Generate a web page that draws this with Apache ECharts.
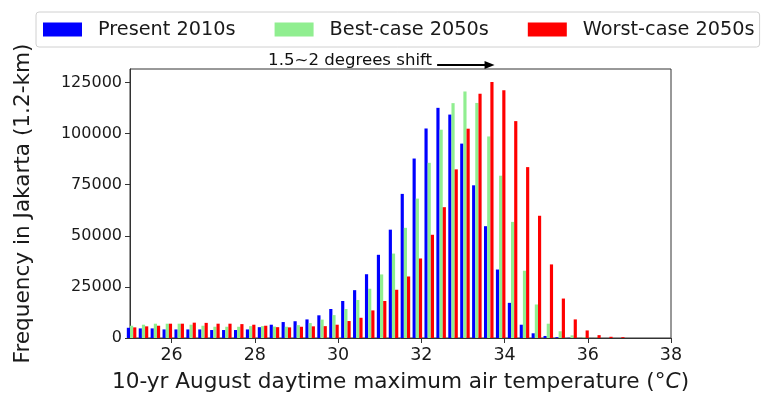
<!DOCTYPE html>
<html>
<head>
<meta charset="utf-8">
<script src="https://cdn.jsdelivr.net/npm/echarts@6/dist/echarts.min.js"></script>
<style>
  html, body { margin: 0; padding: 0; background: #fff; }
  #chart { width: 761px; height: 394px; }
</style>
</head>
<body>
<div id="chart"></div>
<script>
// Histogram bins of the 10-yr August daytime maximum air temperature (°C)
const binFirstCenter = 25.038;
const binWidth = 0.2861;
const binCount = 42;

// Grid-cell counts per bin (1.2-km cells over Jakarta)
const present2010s = [
  5000, 4700, 4700, 4200, 4200, 4200, 4200, 3900, 3900, 3900,
  4200, 5300, 6500, 7800, 8200, 9100, 11100, 14200, 18100, 23400,
  31200, 40700, 53000, 70500, 87800, 102500, 112600, 109300, 95100, 74700,
  54700, 33500, 17200, 6500, 2300, 1000, 400, 100, 0, 0,
  0, 0
];
const bestCase2050s = [
  6000, 6500, 7000, 7000, 7000, 6500, 6000, 5500, 5500, 5500,
  5800, 5800, 5600, 5500, 6300, 7300, 9000, 11200, 14200, 18600,
  24100, 31100, 41300, 53900, 68200, 85700, 101900, 114900, 120600, 115000,
  98600, 79400, 56800, 32900, 16400, 7000, 3300, 1300, 300, 100,
  0, 0
];
const worstCase2050s = [
  5200, 5700, 6000, 7000, 7000, 7500, 7400, 7000, 7000, 6800,
  6500, 6000, 5300, 5200, 5500, 5700, 5800, 6500, 8300, 9900,
  13500, 18100, 23600, 30100, 38900, 50500, 64000, 82500, 102400, 119500,
  125300, 121200, 106100, 83600, 59800, 36000, 19300, 9100, 3700, 1400,
  600, 400
];

const seriesNames = ['Present 2010s', 'Best-case 2050s', 'Worst-case 2050s'];
const seriesColors = ['#0000ff', '#90ee90', '#ff0000'];

const xTicks = [26, 28, 30, 32, 34, 36, 38];
const yTicks = [0, 25000, 50000, 75000, 100000, 125000];

const shiftLabel = '1.5~2 degrees shift';
const shiftArrowFrom = 32.38;
const shiftArrowTo = 33.76;

const binCenters = [];
for (let i = 0; i < binCount; i++) {
  binCenters.push(+(binFirstCenter + i * binWidth).toFixed(4));
}

const FONT = 'DejaVu Sans';
const AXIS_COLOR = '#333';
const TEXT_COLOR = '#1a1a1a';

const chart = echarts.init(document.getElementById('chart'), null, { renderer: 'canvas' });

function barSeries(name, values, color) {
  return {
    name: name,
    type: 'bar',
    data: binCenters.map((c, i) => [c, values[i]]),
    itemStyle: { color: color },
    barGap: '0%',
    barCategoryGap: '20%',
    clip: true,
    animation: false
  };
}

const option = {
  animation: false,
  textStyle: { fontFamily: FONT },
  grid: {
    left: 130, right: 90, top: 69, bottom: 56,
    show: true, borderColor: AXIS_COLOR, borderWidth: 1,
    containLabel: false,
    outerBoundsMode: 'none'
  },
  legend: {
    data: seriesNames,
    left: 36, top: 12,
    icon: 'rect',
    itemWidth: 39, itemHeight: 14, itemGap: 39,
    padding: [8, 5, 8, 7],
    backgroundColor: '#fff',
    borderColor: '#d0d0d0', borderWidth: 1, borderRadius: 3,
    textStyle: { fontFamily: FONT, fontSize: 19.3, color: TEXT_COLOR, padding: [0, 0, 0, 11] }
  },
  xAxis: {
    type: 'value',
    min: 25, max: 38,
    name: '10-yr August daytime maximum air temperature (°{i|C})',
    nameLocation: 'middle',
    nameGap: 33,
    nameTextStyle: {
      fontFamily: FONT, fontSize: 21.6, color: TEXT_COLOR,
      rich: { i: { fontFamily: FONT, fontSize: 21.6, fontStyle: 'italic', color: TEXT_COLOR } }
    },
    axisLine: { show: true, lineStyle: { color: AXIS_COLOR, width: 1 } },
    axisTick: { show: true, length: 5, lineStyle: { color: AXIS_COLOR }, customValues: xTicks },
    axisLabel: { fontFamily: FONT, fontSize: 17.5, color: TEXT_COLOR, margin: 8, customValues: xTicks },
    splitLine: { show: false }
  },
  yAxis: {
    type: 'value',
    min: 0, max: 131600,
    name: 'Frequency in Jakarta (1.2-km)',
    nameLocation: 'middle',
    nameGap: 96,
    nameTextStyle: { fontFamily: FONT, fontSize: 21.6, color: TEXT_COLOR },
    axisLine: { show: true, lineStyle: { color: AXIS_COLOR, width: 1 } },
    axisTick: { show: true, length: 5, lineStyle: { color: AXIS_COLOR }, customValues: yTicks },
    axisLabel: {
      fontFamily: FONT, fontSize: 16, color: TEXT_COLOR, margin: 8, customValues: yTicks,
      formatter: (v) => String(v)
    },
    splitLine: { show: false }
  },
  series: [
    barSeries(seriesNames[0], present2010s, seriesColors[0]),
    barSeries(seriesNames[1], bestCase2050s, seriesColors[1]),
    barSeries(seriesNames[2], worstCase2050s, seriesColors[2])
  ]
};

chart.setOption(option);

// Annotation above the plot: label plus arrow showing the warming shift
const arrowY = 65;
const arrowStart = chart.convertToPixel({ xAxisIndex: 0 }, shiftArrowFrom);
const arrowEnd = chart.convertToPixel({ xAxisIndex: 0 }, shiftArrowTo);
chart.setOption({
  graphic: [
    {
      type: 'text',
      x: arrowStart - 5, y: arrowY - 4,
      style: {
        text: shiftLabel,
        fontFamily: FONT, fontSize: 16.6, fill: '#111',
        align: 'right', verticalAlign: 'middle'
      },
      z: 100
    },
    {
      type: 'line',
      shape: { x1: arrowStart, y1: arrowY, x2: arrowEnd - 8, y2: arrowY },
      style: { stroke: '#000', lineWidth: 2 },
      z: 100
    },
    {
      type: 'polygon',
      shape: { points: [[arrowEnd, arrowY], [arrowEnd - 10, arrowY - 4], [arrowEnd - 10, arrowY + 4]] },
      style: { fill: '#000' },
      z: 100
    }
  ]
});
</script>
</body>
</html>
